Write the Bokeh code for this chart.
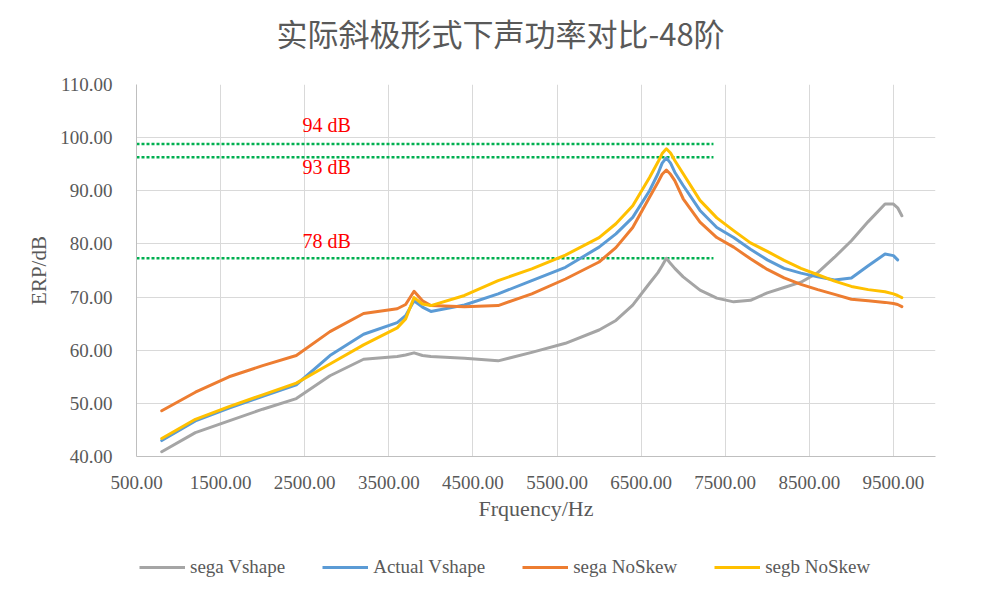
from bokeh.plotting import figure
from bokeh.layouts import column
from bokeh.models import (FixedTicker, NumeralTickFormatter, Legend, LegendItem,
                          Label, Range1d)
from bokeh.embed import file_html
from bokeh.resources import INLINE

NAN = float("nan")

# ---- data ----
freq = [800, 1200, 1600, 2000, 2400, 2800, 3200, 3600, 3700, 3800, 3900, 4000,
        4400, 4800, 5200, 5600, 6000, 6200, 6400, 6600, 6700, 6750, 6800, 6850,
        6900, 7000, 7200, 7400, 7600, 7800, 8000, 8200, 8400, 8600, 8800, 9000,
        9200, 9400, 9500, 9550, 9600]

sega_vshape = [40.9, 44.5, 46.7, 48.9, 50.9, 55.2, 58.3, 58.8, 59.1, 59.5, 59.0, 58.8,
               58.5, 58.0, 59.6, 61.3, 63.8, 65.6, 68.5, 72.6, 74.6, 75.9, 77.3, 76.3,
               75.4, 73.8, 71.3, 69.8, 69.1, 69.4, 70.8, 71.8, 72.8, 74.6, 77.5, 80.6,
               84.2, 87.5, 87.5, 86.8, 85.3]

actual_vshape = [43.0, 46.7, 49.1, 51.3, 53.5, 59.0, 63.0, 65.2, 66.5, 69.3, 68.1, 67.3,
                 68.5, 70.6, 73.1, 75.6, 79.4, 81.9, 85.0, 90.0, 93.2, 95.2, 96.2, 95.2,
                 93.5, 91.0, 86.3, 83.1, 81.2, 79.0, 77.0, 75.4, 74.5, 73.8, 73.2, 73.6,
                 75.9, 78.1, 77.8, 77.0, NAN]

sega_noskew = [48.6, 52.1, 55.0, 57.1, 59.0, 63.5, 66.9, 67.8, 68.6, 71.1, 69.3, 68.4,
               68.2, 68.4, 70.6, 73.4, 76.6, 79.3, 83.1, 88.8, 91.6, 93.1, 93.9, 93.1,
               91.9, 88.5, 84.1, 81.2, 79.4, 77.2, 75.2, 73.6, 72.4, 71.4, 70.5, 69.6,
               69.3, 69.0, 68.8, 68.6, 68.2]

segb_noskew = [43.4, 47.0, 49.4, 51.6, 53.8, 57.4, 61.0, 64.2, 65.9, 69.9, 68.7, 68.4,
               70.3, 73.1, 75.3, 77.9, 81.2, 83.8, 87.2, 92.5, 95.4, 97.0, 97.9, 97.1,
               95.7, 93.2, 88.2, 84.9, 82.5, 80.2, 78.6, 76.9, 75.4, 74.2, 73.0, 72.0,
               71.4, 71.0, 70.6, 70.3, 69.9]

series_names = ["sega Vshape", "Actual Vshape", "sega NoSkew", "segb NoSkew"]
series_values = [sega_vshape, actual_vshape, sega_noskew, segb_noskew]
series_colors = ["#A5A5A5", "#5B9BD5", "#ED7D31", "#FFC000"]

ref_levels = [98.8, 96.3, 77.3]          # green dotted reference lines (axis units)
ref_labels = ["94 dB", "93 dB", "78 dB"]
ref_label_y = [102.3, 94.5, 80.6]
ref_x_start = [500, 500, 500]
ref_x_end = [7360, 7360, 7360]

x_ticks = [500, 1500, 2500, 3500, 4500, 5500, 6500, 7500, 8500, 9500]
y_ticks = [40, 50, 60, 70, 80, 90, 100, 110]

TITLE = "实际斜极形式下声功率对比-48阶"
TEXT = "#595959"
SERIF = "Liberation Serif"


def strip(height):
    f = figure(width=1001, height=height, output_backend="svg", toolbar_location=None,
               x_range=Range1d(0, 1), y_range=Range1d(0, 1),
               x_axis_type=None, y_axis_type=None, min_border=0)
    f.outline_line_color = None
    f.xgrid.visible = False
    f.ygrid.visible = False
    return f


# ---- title strip ----
top = strip(74)
top.add_layout(Label(x=0.4556, y=0.568, text=TITLE, text_align="center",
                     text_baseline="middle", text_color=TEXT,
                     text_font="Noto Sans CJK SC", text_font_size="31px"))

# ---- main chart ----
p = figure(width=1001, height=461, output_backend="svg", toolbar_location=None,
           x_range=Range1d(500, 10000), y_range=Range1d(40, 110),
           min_border_left=136, min_border_right=66, min_border_top=10,
           min_border_bottom=79)
p.outline_line_color = None
p.background_fill_color = "white"
p.border_fill_color = "white"

p.xgrid.ticker = FixedTicker(ticks=x_ticks)
p.ygrid.ticker = FixedTicker(ticks=y_ticks)
for g in (p.xgrid, p.ygrid):
    g.grid_line_color = "#D9D9D9"
    g.grid_line_width = 1

for ax in (p.xaxis, p.yaxis):
    ax.formatter = NumeralTickFormatter(format="0.00")
    ax.major_tick_line_color = None
    ax.minor_tick_line_color = None
    ax.axis_line_color = "#BFBFBF"
    ax.major_label_text_font = SERIF
    ax.major_label_text_font_size = "19px"
    ax.major_label_text_color = TEXT
    ax.axis_label_text_font = SERIF
    ax.axis_label_text_font_style = "normal"
    ax.axis_label_text_color = TEXT
p.xaxis.ticker = FixedTicker(ticks=x_ticks)
p.yaxis.ticker = FixedTicker(ticks=y_ticks)
p.xaxis.axis_label = "Frquency/Hz"
p.yaxis.axis_label = "ERP/dB"
p.xaxis.axis_label_text_font_size = "22px"
p.yaxis.axis_label_text_font_size = "21px"
p.xaxis.major_label_standoff = 13
p.xaxis.axis_label_standoff = 4
p.yaxis.major_label_standoff = 18
p.yaxis.axis_label_standoff = 6

p.segment(x0=ref_x_start, y0=ref_levels, x1=ref_x_end, y1=ref_levels,
          line_color="#00B050", line_width=2.5, line_dash="3 2")
for lab, ly in zip(ref_labels, ref_label_y):
    p.add_layout(Label(x=2760, y=ly, text=lab, text_align="center",
                       text_baseline="middle", text_color="#FF0000",
                       text_font=SERIF, text_font_size="20px"))

for vals, col in zip(series_values, series_colors):
    p.line(freq, vals, line_color=col, line_width=3,
           line_join="round", line_cap="round")

# ---- legend strip ----
leg = strip(64)
items = []
for name, vals, col in zip(series_names, series_values, series_colors):
    # same series; they fall outside this strip's 0..1 range, only the key shows
    r = leg.line(freq, vals, line_color=col, line_width=3)
    items.append(LegendItem(label=name, renderers=[r]))
legend = Legend(items=items, location=(3, 21), orientation="horizontal",
                padding=0, margin=0, spacing=37, glyph_width=46, label_standoff=5,
                border_line_color=None, background_fill_alpha=0,
                label_text_font=SERIF, label_text_font_size="19px",
                label_text_color=TEXT)
leg.add_layout(legend, "center")

layout = column(top, p, leg, spacing=0)
open("out.html", "w").write(file_html(layout, INLINE))
